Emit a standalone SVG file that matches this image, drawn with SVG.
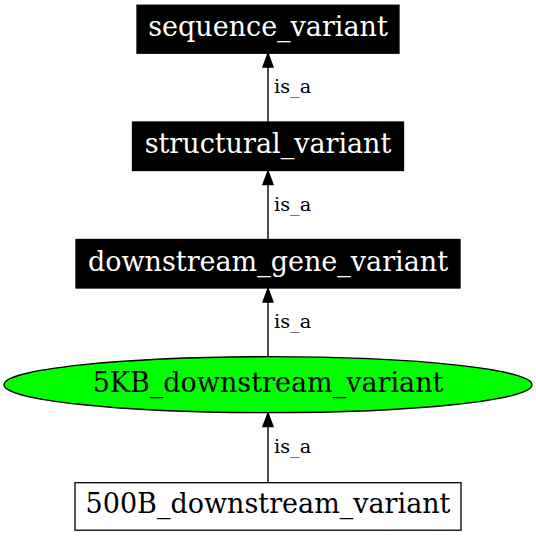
<svg xmlns="http://www.w3.org/2000/svg" width="536" height="536" viewBox="0 0 536 536">
<defs>
<style>
.nt{font-family:"DejaVu Serif","Liberation Serif",serif;font-size:27px;text-anchor:middle}
.el{font-family:"DejaVu Serif","Liberation Serif",serif;font-size:19.3px}
.edge{stroke:#000;stroke-width:1.4;fill:none}
.ah{fill:#000;stroke:#000;stroke-width:1.4}
.blk{fill:#000;stroke:#000;stroke-width:1.3}
</style>
</defs>
<rect width="536" height="536" fill="#fff"/>
<g id="connectors">
<g id="e1"><line class="edge" x1="268" y1="121.7" x2="268" y2="67"/><polygon class="ah" points="268,53.5 263,67 273,67"/><text class="el" x="274" y="93.3">is_a</text></g>
<g id="e2"><line class="edge" x1="268" y1="239.3" x2="268" y2="184.5"/><polygon class="ah" points="268,171 263,184.5 273,184.5"/><text class="el" x="274" y="211">is_a</text></g>
<g id="e3"><line class="edge" x1="268" y1="356.7" x2="268" y2="302"/><polygon class="ah" points="268,288.5 263,302 273,302"/><text class="el" x="274" y="327.7">is_a</text></g>
<g id="e4"><line class="edge" x1="268" y1="482.7" x2="268" y2="426.5"/><polygon class="ah" points="268,413 263,426.5 273,426.5"/><text class="el" x="274" y="452.7">is_a</text></g>
</g>
<g id="sequence_variant"><rect class="blk" x="137" y="5.2" width="262" height="48"/><text class="nt" x="268" y="36.2" fill="#fff">sequence_variant</text></g>
<g id="structural_variant"><rect class="blk" x="132.5" y="122" width="271" height="48.5"/><text class="nt" x="268" y="153" fill="#fff">structural_variant</text></g>
<g id="downstream_gene_variant"><rect class="blk" x="76" y="239.5" width="384" height="48.5"/><text class="nt" x="268" y="270.8" fill="#fff">downstream_gene_variant</text></g>
<g id="n5KB_downstream_variant"><ellipse cx="268" cy="384.7" rx="264" ry="28" fill="#00ff00" stroke="#000" stroke-width="1.3"/><text class="nt" x="268" y="392" fill="#000">5KB_downstream_variant</text></g>
<g id="n500B_downstream_variant"><rect x="75" y="482.7" width="386" height="47.5" fill="#fff" stroke="#000" stroke-width="1.3"/><text class="nt" x="268" y="513" fill="#000">500B_downstream_variant</text></g>
</svg>
